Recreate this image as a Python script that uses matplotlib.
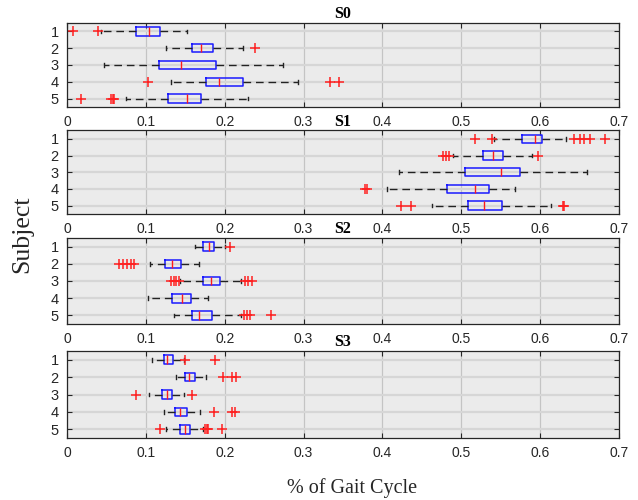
import matplotlib
matplotlib.use("Agg")
import matplotlib.pyplot as plt

subjects = [1, 2, 3, 4, 5]
titles = ["S0", "S1", "S2", "S3"]
xticks = [0, 0.1, 0.2, 0.3, 0.4, 0.5, 0.6, 0.7]

# per panel: rows are subjects 1..5
s0_q1 = [0.0873, 0.1585, 0.117, 0.1763, 0.128]
s0_med = [0.1034, 0.1703, 0.1445, 0.1924, 0.152]
s0_q3 = [0.1178, 0.1847, 0.1886, 0.2233, 0.1695]
s0_lo = [0.0428, 0.1258, 0.0475, 0.132, 0.0746]
s0_hi = [0.152, 0.2233, 0.274, 0.2932, 0.229]
s0_fl = [[0.0072, 0.039], [0.239], [], [0.1025, 0.3335, 0.3453],
         [0.0178, 0.056, 0.058, 0.060]]

s1_q1 = [0.5774, 0.5272, 0.5051, 0.4813, 0.508]
s1_med = [0.5936, 0.5404, 0.5502, 0.5174, 0.5285]
s1_q3 = [0.6026, 0.5528, 0.5749, 0.5357, 0.5515]
s1_lo = [0.542, 0.490, 0.4209, 0.4064, 0.463]
s1_hi = [0.6328, 0.5894, 0.6596, 0.568, 0.6136]
s1_fl = [[0.5174, 0.539, 0.6434, 0.6506, 0.6562, 0.6626, 0.6817],
         [0.4762, 0.481, 0.485, 0.597], [], [0.378, 0.380],
         [0.4238, 0.4357, 0.6285, 0.630]]

s2_q1 = [0.1728, 0.1248, 0.1728, 0.1333, 0.1584]
s2_med = [0.1805, 0.1329, 0.1826, 0.1456, 0.1677]
s2_q3 = [0.186, 0.144, 0.1936, 0.1567, 0.1839]
s2_lo = [0.162, 0.1057, 0.143, 0.1028, 0.1363]
s2_hi = [0.200, 0.1669, 0.2204, 0.1788, 0.2204]
s2_fl = [[0.2068], [0.066, 0.071, 0.076, 0.081, 0.085],
         [0.1325, 0.1355, 0.1384, 0.1418, 0.2259, 0.2289, 0.234], [],
         [0.2242, 0.228, 0.2318, 0.2586]]

s3_q1 = [0.1227, 0.1495, 0.121, 0.1367, 0.1431]
s3_med = [0.1274, 0.155, 0.127, 0.1427, 0.1495]
s3_q3 = [0.1342, 0.1622, 0.1333, 0.1524, 0.1558]
s3_lo = [0.1079, 0.1376, 0.1045, 0.1227, 0.1257]
s3_hi = [0.149, 0.1758, 0.149, 0.169, 0.1728]
s3_fl = [[0.150, 0.1877], [0.1983, 0.2089, 0.214], [0.087, 0.1588],
         [0.1864, 0.2089, 0.2127], [0.1176, 0.1745, 0.177, 0.179, 0.197]]

panels = [
    (s0_q1, s0_med, s0_q3, s0_lo, s0_hi, s0_fl),
    (s1_q1, s1_med, s1_q3, s1_lo, s1_hi, s1_fl),
    (s2_q1, s2_med, s2_q3, s2_lo, s2_hi, s2_fl),
    (s3_q1, s3_med, s3_q3, s3_lo, s3_hi, s3_fl),
]

W, H = 638, 500
fig = plt.figure(figsize=(W / 100, H / 100), dpi=100)
fig.patch.set_facecolor("white")

# axes pixel boxes (top, bottom)
boxes_px = [(23, 107), (130.5, 214), (238, 324), (351, 438)]
left_px, right_px = 67, 619

for (top, bot), title, (q1, med, q3, lo, hi, fl) in zip(boxes_px, titles, panels):
    ax = fig.add_axes([left_px / W, 1 - bot / H, (right_px - left_px) / W, (bot - top) / H])
    ax.set_facecolor("#ebebeb")
    stats = []
    for i in range(len(subjects)):
        stats.append(dict(med=med[i], q1=q1[i], q3=q3[i], whislo=lo[i], whishi=hi[i],
                          fliers=fl[i], label=str(subjects[i])))
    ax.bxp(stats, positions=subjects, vert=False, widths=0.5, capwidths=0.22,
           showfliers=True, patch_artist=False,
           boxprops=dict(color="#1a1aff", linewidth=1.1),
           medianprops=dict(color="#ff1a1a", linewidth=1.0),
           whiskerprops=dict(color="#222222", linewidth=1.0, linestyle=(0, (5.5, 3.5))),
           capprops=dict(color="#222222", linewidth=1.0),
           flierprops=dict(marker="+", markeredgecolor="#ff2020", markersize=7.5,
                           markeredgewidth=1.1, linestyle="none"))
    ax.set_xlim(0, 0.7)
    ax.set_ylim(5.5, 0.5)
    ax.set_xticks(xticks)
    ax.set_xticklabels([("%g" % v) for v in xticks])
    ax.set_yticks(subjects)
    ax.set_yticklabels([str(s) for s in subjects])
    ax.grid(True, axis="x", color="#c4c4c4", linewidth=0.9)
    ax.grid(True, axis="y", color="#d6d6d6", linewidth=1.6)
    ax.set_axisbelow(True)
    ax.tick_params(direction="in", top=True, right=True, length=3.5, width=0.8,
                   color="#262626", labelcolor="#262626", labelsize=10, pad=5.5)
    ax.tick_params(axis="y", labelsize=10.5, pad=6)
    for lab in ax.get_xticklabels() + ax.get_yticklabels():
        lab.set_fontfamily("Liberation Sans")
    for sp in ax.spines.values():
        sp.set_color("#262626")
        sp.set_linewidth(0.9)
    ax.set_title(title, fontfamily="Liberation Serif", fontweight="bold",
                 fontsize=11.5, pad=3.5)

fig.text(22 / W, 1 - 234 / H, "Subject", rotation=90, ha="center", va="center",
         fontfamily="Liberation Serif", fontsize=18.5, color="#262626")
fig.text(352 / W, 1 - 488 / H, "% of Gait Cycle", ha="center", va="center",
         fontfamily="Liberation Serif", fontsize=14.5, color="#262626")

fig.savefig("out.png", dpi=100)
